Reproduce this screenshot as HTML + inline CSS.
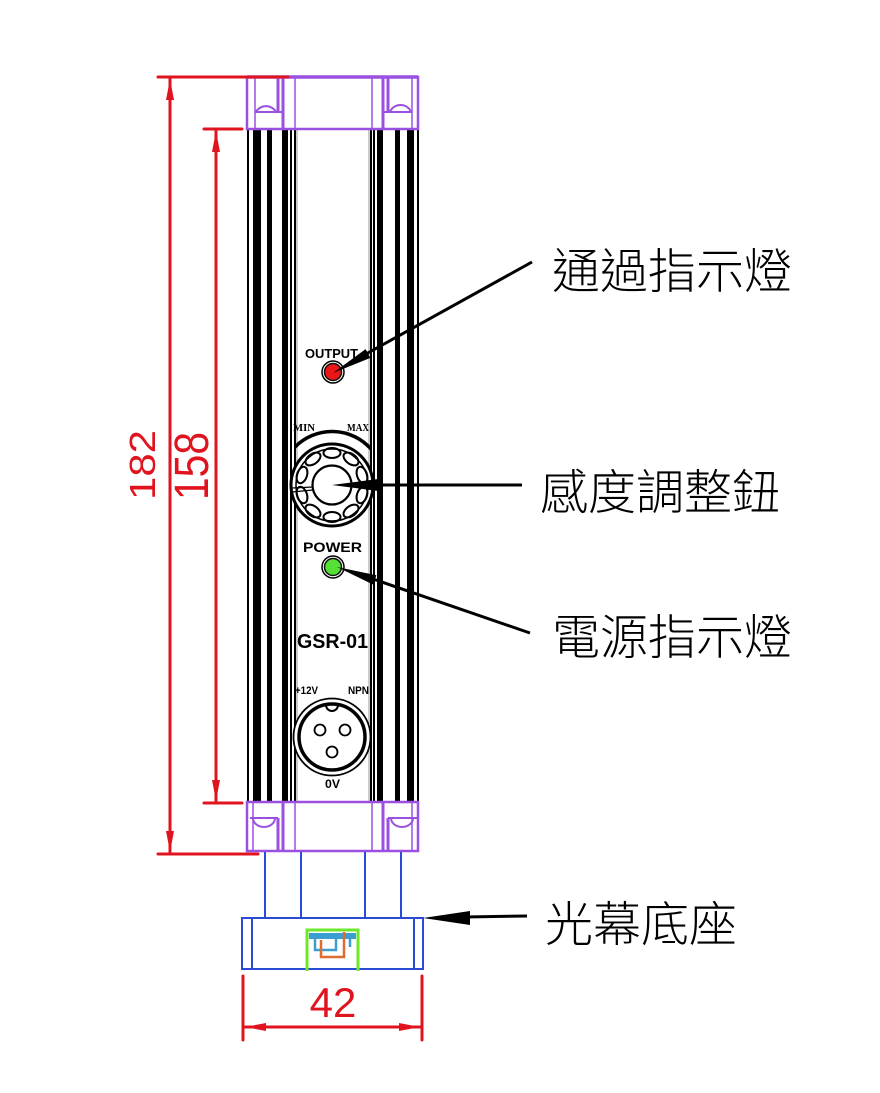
<!DOCTYPE html>
<html><head><meta charset="utf-8"><style>
html,body{margin:0;padding:0;background:#fff;}
svg{display:block;}
</style></head><body>
<svg width="880" height="1093" viewBox="0 0 880 1093" xmlns="http://www.w3.org/2000/svg">
<rect width="880" height="1093" fill="#fff"/>

<!-- body stripes -->
<g fill="#000">
<rect x="247" y="129" width="2" height="673"/>
<rect x="253" y="129" width="8" height="673"/>
<rect x="267" y="129" width="5" height="673"/>
<rect x="282" y="129" width="6" height="673"/>
<rect x="290" y="129" width="2" height="673"/>
<rect x="294" y="129" width="2" height="673"/>
<rect x="370" y="129" width="2" height="673"/>
<rect x="373" y="129" width="2" height="673"/>
<rect x="377" y="129" width="6" height="673"/>
<rect x="395" y="129" width="5" height="673"/>
<rect x="407" y="129" width="7" height="673"/>
<rect x="417" y="129" width="2" height="673"/>
</g>
<line x1="297" y1="129" x2="297" y2="802" stroke="#999" stroke-width="1"/>
<line x1="369" y1="129" x2="369" y2="802" stroke="#999" stroke-width="1"/>

<!-- top cap -->
<g fill="none" stroke="#9b51e0">
<rect x="247" y="77" width="171" height="52" fill="#fff" stroke-width="2.5"/>
<line x1="247" y1="77" x2="418" y2="77" stroke-width="3.5"/>
<line x1="255" y1="77" x2="255" y2="129" stroke-width="1.5"/>
<line x1="278" y1="77" x2="278" y2="112" stroke-width="3"/>
<line x1="283" y1="77" x2="283" y2="129" stroke-width="3"/>
<line x1="295" y1="77" x2="295" y2="129" stroke-width="1.5"/>
<line x1="255" y1="112" x2="283" y2="112" stroke-width="2"/>
<path d="M256,112 A11,10 0 0 1 276,112" stroke-width="2"/>
<line x1="372" y1="77" x2="372" y2="129" stroke-width="1.5"/>
<line x1="383" y1="77" x2="383" y2="129" stroke-width="3"/>
<line x1="388" y1="77" x2="388" y2="112" stroke-width="3"/>
<line x1="412" y1="77" x2="412" y2="129" stroke-width="1.5"/>
<line x1="383" y1="112" x2="412" y2="112" stroke-width="2"/>
<path d="M390,112 A11,10 0 0 1 411,112" stroke-width="2"/>
</g>

<!-- bottom cap -->
<g fill="none" stroke="#9b51e0">
<rect x="247" y="802" width="171" height="49" fill="#fff" stroke-width="2.5"/>
<line x1="253" y1="802" x2="253" y2="851" stroke-width="1.5"/>
<line x1="278" y1="818" x2="278" y2="851" stroke-width="3"/>
<line x1="283" y1="802" x2="283" y2="851" stroke-width="3"/>
<line x1="295" y1="802" x2="295" y2="851" stroke-width="1.5"/>
<line x1="250" y1="818" x2="278" y2="818" stroke-width="2"/>
<path d="M253,818 A11,9 0 0 0 275,818" stroke-width="2"/>
<line x1="372" y1="802" x2="372" y2="851" stroke-width="1.5"/>
<line x1="383" y1="802" x2="383" y2="851" stroke-width="3"/>
<line x1="388" y1="818" x2="388" y2="851" stroke-width="3"/>
<line x1="412" y1="802" x2="412" y2="851" stroke-width="1.5"/>
<line x1="388" y1="818" x2="417" y2="818" stroke-width="2"/>
<path d="M391,818 A11,9 0 0 0 413,818" stroke-width="2"/>
</g>

<!-- blue base -->
<g fill="none" stroke="#2a4bd6" stroke-width="2">
<line x1="265" y1="852" x2="265" y2="918"/>
<line x1="301" y1="852" x2="301" y2="918"/>
<line x1="365" y1="852" x2="365" y2="918"/>
<line x1="401" y1="852" x2="401" y2="918"/>
<rect x="242" y="918" width="181" height="51"/>
<line x1="252" y1="918" x2="252" y2="969"/>
<line x1="414" y1="918" x2="414" y2="969"/>
</g>
<path d="M307,971 V930 H358 V971" fill="none" stroke="#6ee82a" stroke-width="3"/>
<rect x="309" y="933" width="47" height="6" fill="#3a9fd0"/>
<path d="M315,939 V950 H336 V939" fill="none" stroke="#3a9fd0" stroke-width="2.5"/>
<path d="M350,939 V947" fill="none" stroke="#3a9fd0" stroke-width="2.5"/>
<path d="M321,940 V957 H344 V932" fill="none" stroke="#e06a30" stroke-width="2.5"/>

<!-- panel details -->
<text x="305" y="358" font-family="Liberation Sans, sans-serif" font-weight="bold" font-size="13" textLength="53" lengthAdjust="spacingAndGlyphs">OUTPUT</text>
<circle cx="333" cy="372" r="11" fill="#fff" stroke="#000" stroke-width="1.5"/>
<circle cx="333" cy="372" r="8.5" fill="#ee1515" stroke="#111" stroke-width="1.5"/>

<text x="293" y="431" font-family="Liberation Serif, serif" font-weight="bold" font-size="10" textLength="22" lengthAdjust="spacingAndGlyphs">MIN</text>
<text x="347" y="431" font-family="Liberation Serif, serif" font-weight="bold" font-size="10" textLength="22" lengthAdjust="spacingAndGlyphs">MAX</text>
<path d="M295,447 A52,52 0 0 1 371,449" fill="none" stroke="#000" stroke-width="3.5"/>
<circle cx="332" cy="485" r="41" fill="#fff" stroke="#000" stroke-width="3"/>
<circle cx="332" cy="485" r="36" fill="none" stroke="#000" stroke-width="1.5"/>
<g fill="none" stroke="#000" stroke-width="2">
<ellipse cx="332" cy="453" rx="8.5" ry="5"/>
<ellipse cx="351" cy="459" rx="8.5" ry="5" transform="rotate(36 351 459)"/>
<ellipse cx="362" cy="475" rx="8.5" ry="5" transform="rotate(72 362 475)"/>
<ellipse cx="362" cy="495" rx="8.5" ry="5" transform="rotate(108 362 495)"/>
<ellipse cx="351" cy="511" rx="8.5" ry="5" transform="rotate(144 351 511)"/>
<ellipse cx="332" cy="517" rx="8.5" ry="5"/>
<ellipse cx="313" cy="511" rx="8.5" ry="5" transform="rotate(36 313 511)"/>
<ellipse cx="302" cy="495" rx="8.5" ry="5" transform="rotate(72 302 495)"/>
<ellipse cx="302" cy="475" rx="8.5" ry="5" transform="rotate(108 302 475)"/>
<ellipse cx="313" cy="459" rx="8.5" ry="5" transform="rotate(144 313 459)"/>
</g>
<circle cx="332" cy="485" r="19.5" fill="#fff" stroke="#000" stroke-width="2.2"/>
<line x1="292" y1="488" x2="313" y2="487" stroke="#000" stroke-width="1.2"/>
<line x1="292" y1="492" x2="313" y2="490" stroke="#000" stroke-width="1.2"/>

<text x="303" y="552" font-family="Liberation Sans, sans-serif" font-weight="bold" font-size="14" textLength="59" lengthAdjust="spacingAndGlyphs">POWER</text>
<circle cx="333" cy="567" r="11" fill="#fff" stroke="#000" stroke-width="1.5"/>
<circle cx="333" cy="567" r="8.5" fill="#55e035" stroke="#111" stroke-width="1.5"/>

<text x="297" y="648" font-family="Liberation Sans, sans-serif" font-weight="bold" font-size="20" textLength="71" lengthAdjust="spacingAndGlyphs">GSR-01</text>

<text x="295" y="694" font-family="Liberation Sans, sans-serif" font-weight="bold" font-size="11" textLength="23" lengthAdjust="spacingAndGlyphs">+12V</text>
<text x="348" y="694" font-family="Liberation Sans, sans-serif" font-weight="bold" font-size="11" textLength="21" lengthAdjust="spacingAndGlyphs">NPN</text>
<circle cx="332" cy="737" r="38.5" fill="#fff" stroke="#000" stroke-width="1.8"/>
<circle cx="332" cy="737" r="33" fill="none" stroke="#000" stroke-width="3.5"/>
<path d="M326,705 A6,6 0 0 0 338,705" fill="none" stroke="#000" stroke-width="2"/>
<circle cx="320" cy="730" r="5.5" fill="#fff" stroke="#000" stroke-width="1.8"/>
<circle cx="345" cy="730" r="5.5" fill="#fff" stroke="#000" stroke-width="1.8"/>
<circle cx="332" cy="752" r="5.5" fill="#fff" stroke="#000" stroke-width="1.8"/>
<text x="325" y="788" font-family="Liberation Sans, sans-serif" font-weight="bold" font-size="12" textLength="15" lengthAdjust="spacingAndGlyphs">0V</text>

<!-- red dimensions -->
<g stroke="#e0141e" stroke-width="3" fill="none" stroke-linecap="round">
<line x1="158" y1="77" x2="288" y2="77"/>
<line x1="158" y1="854" x2="258" y2="854"/>
<line x1="170" y1="79" x2="170" y2="852"/>
<line x1="204" y1="129" x2="242" y2="129"/>
<line x1="204" y1="803" x2="242" y2="803"/>
<line x1="216" y1="131" x2="216" y2="801"/>
<line x1="243" y1="976" x2="243" y2="1040"/>
<line x1="422" y1="976" x2="422" y2="1040"/>
<line x1="245" y1="1027" x2="420" y2="1027"/>
</g>
<g fill="#e0141e">
<polygon points="170,79 166,100 174,100"/>
<polygon points="170,852 166,831 174,831"/>
<polygon points="216,131 212,152 220,152"/>
<polygon points="216,801 212,780 220,780"/>
<polygon points="245,1027 266,1023 266,1031"/>
<polygon points="420,1027 399,1023 399,1031"/>
</g>
<g font-family="Liberation Sans, sans-serif" fill="#e0141e">
<text transform="translate(155,465) rotate(-90)" text-anchor="middle" font-size="36" textLength="70" lengthAdjust="spacingAndGlyphs">182</text>
<text transform="translate(208,466) rotate(-90)" text-anchor="middle" font-size="48" textLength="68" lengthAdjust="spacingAndGlyphs">158</text>
<text x="333" y="1017" text-anchor="middle" font-size="42">42</text>
</g>

<!-- leader arrows -->
<g stroke="#000" stroke-width="3" fill="none">
<line x1="532" y1="262" x2="366" y2="354"/>
<line x1="522" y1="485" x2="376" y2="485"/>
<line x1="530" y1="633" x2="373" y2="579"/>
<line x1="527" y1="916" x2="465" y2="917"/>
</g>
<g fill="#000">
<polygon points="333,373 370.4,357.9 365.6,349.1"/>
<polygon points="332,485 378,479 378,491"/>
<polygon points="337,567 373.2,584.6 376.4,575.2"/>
<polygon points="423,918 470,911 470,925"/>
</g>

<!-- labels -->
<g font-family="Liberation Sans, 'Noto Sans CJK TC', sans-serif" font-size="48" font-weight="300" fill="#000">
<text x="552" y="288">通過指示燈</text>
<text x="540" y="509">感度調整鈕</text>
<text x="552" y="654">電源指示燈</text>
<text x="545" y="941">光幕底座</text>
</g>
</svg>
</body></html>
